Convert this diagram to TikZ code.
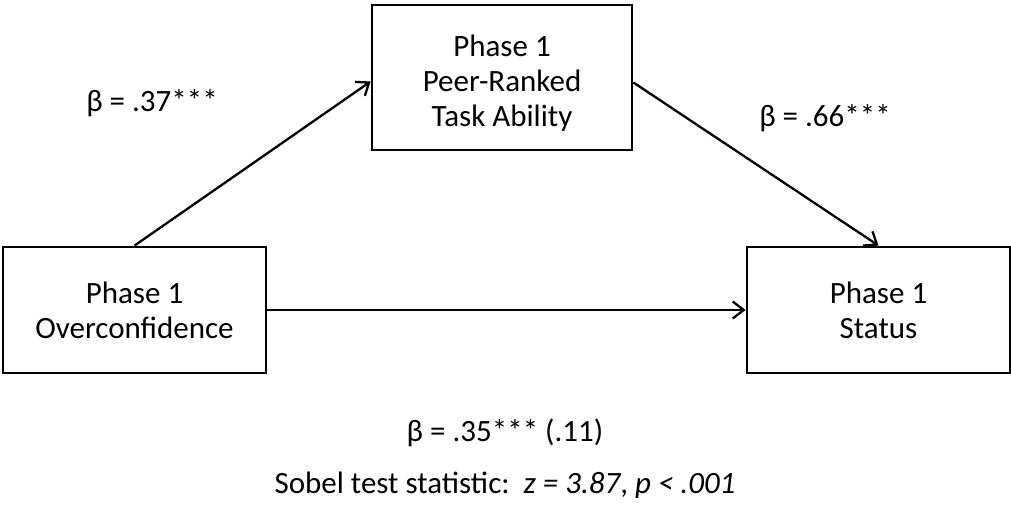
\documentclass[tikz,border=0pt]{standalone}
\usepackage{fontspec}
\setmainfont{Carlito}
\usetikzlibrary{arrows.meta}
\begin{document}
\begin{tikzpicture}[x=1pt,y=1pt,
  box/.style={draw, line width=2.8pt, minimum width=#1, align=center, inner sep=0pt},
  lbl/.style={font=\fontsize{31}{36}\selectfont},
  conn/.style={line width=2.3pt, -{Straight Barb[length=11pt,width=17pt,line width=2.3pt]}},
  every node/.append style={font=\fontsize{31}{35}\selectfont}]
\useasboundingbox (0,0) rectangle (1011,517);
\node[box=263pt, minimum height=126pt] (lb) at (134.5,207) {Phase 1\\Overconfidence};
\node[box=260pt, minimum height=145pt] (tb) at (502,439.5) {\raisebox{-7pt}[\height][\depth]{\begin{tabular}{@{}c@{}}Phase 1\\Peer-Ranked\\Task Ability\end{tabular}}};
\node[box=263pt, minimum height=126pt] (rb) at (878.5,207) {Phase 1\\Status};
\draw[conn] (lb.north) -- ([yshift=-4pt]tb.west);
\draw[conn] ([yshift=-5pt]tb.east) -- (rb.north);
\draw[conn] (lb.east) -- (rb.west);
\node[lbl] (b1) at (152,414) {β = .37***};
\node[lbl] (b2) at (825,399) {β = .66***};
\node[lbl] (b3) at (505,84) {β = .35*** (.11)};
\node[lbl] (sob) at (505,32) {Sobel test statistic:\ \ \textit{z = 3.87}, \textit{p < .001}};
\end{tikzpicture}
\end{document}
